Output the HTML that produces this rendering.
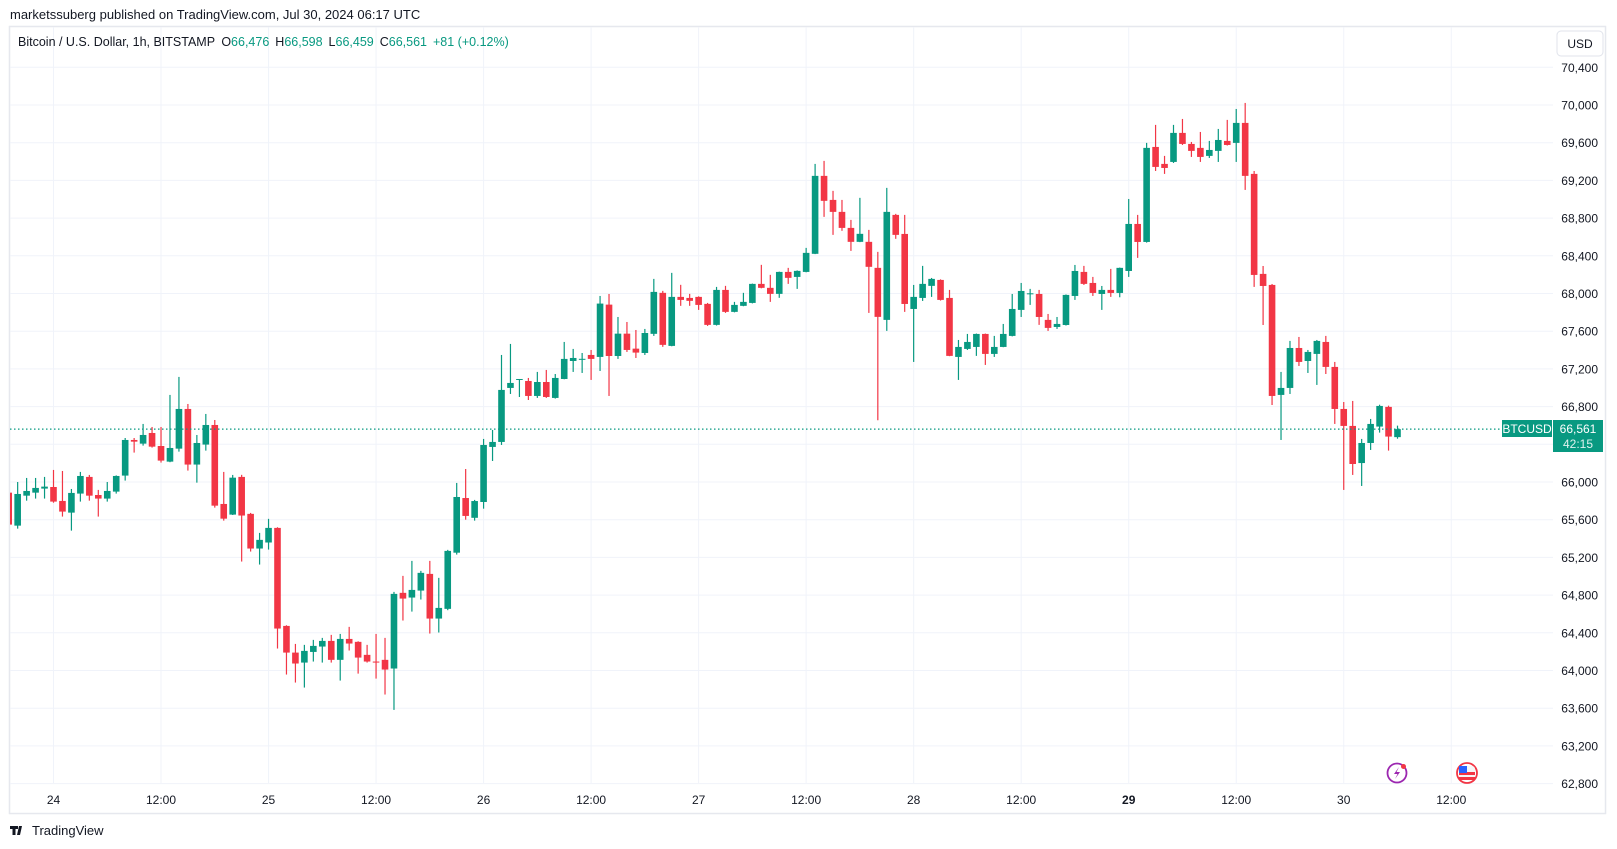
<!DOCTYPE html>
<html><head><meta charset="utf-8"><style>
html,body{margin:0;padding:0;background:#fff;}
svg{display:block;font-family:"Liberation Sans",sans-serif;}
</style></head><body>
<svg id="chart" width="1617" height="849" viewBox="0 0 1617 849" xmlns="http://www.w3.org/2000/svg">
<defs><clipPath id="plotclip"><rect x="10" y="27" width="1543" height="756"/></clipPath></defs>
<text x="10" y="19" font-size="13" fill="#131722">marketssuberg published on TradingView.com, Jul 30, 2024 06:17 UTC</text>
<rect x="9.5" y="26.5" width="1596" height="787" fill="#fff" stroke="#e6e8ee" stroke-width="1.5"/>
<g id="grid"></g>
<g id="xlabels"></g>
<g id="ylabels"></g>
<g id="candles" clip-path="url(#plotclip)"></g>
<line id="lastline" x1="10" x2="1502" stroke="#089981" stroke-width="1.2" stroke-dasharray="1.5 2.5"/>
<g>
<text x="18" y="46" font-size="12.5" fill="#131722">Bitcoin / U.S. Dollar, 1h, BITSTAMP <tspan dx="3">O</tspan><tspan fill="#089981">66,476</tspan><tspan dx="6">H</tspan><tspan fill="#089981">66,598</tspan><tspan dx="6">L</tspan><tspan fill="#089981">66,459</tspan><tspan dx="6">C</tspan><tspan fill="#089981">66,561</tspan><tspan dx="6" fill="#089981">+81 (+0.12%)</tspan></text>
</g>
<g>
<rect x="1557" y="31" width="46" height="25" rx="4" fill="#fff" stroke="#e0e3eb"/>
<text x="1580" y="48" font-size="12" text-anchor="middle" fill="#131722">USD</text>
</g>
<g>
<rect x="1502" y="420" width="50" height="17" fill="#089981"/>
<text x="1527" y="433" font-size="12" text-anchor="middle" fill="#fff">BTCUSD</text>
<rect x="1553" y="420" width="50" height="32" fill="#089981"/>
<text x="1578" y="433" font-size="12" text-anchor="middle" fill="#fff">66,561</text>
<text x="1578" y="448" font-size="12" text-anchor="middle" fill="#e0f2ef">42:15</text>
</g>
<g>
<circle cx="1397" cy="773" r="9.5" fill="#fff" stroke="#9c27b0" stroke-width="1.8"/>
<path d="M1399 767 L1394 774 L1397.5 774 L1395 779 L1400 772 L1396.5 772 Z" fill="#9c27b0"/>
<circle cx="1403.5" cy="766.5" r="2.5" fill="#f23645"/>
</g>
<g>
<circle cx="1467" cy="773" r="10" fill="#fff" stroke="#f23645" stroke-width="1.8"/>
<rect x="1459" y="766" width="16" height="14" rx="3" fill="#f7f7f7"/>
<rect x="1459" y="772" width="16" height="3" fill="#f23645"/>
<rect x="1459" y="777" width="16" height="3" fill="#f23645"/>
<rect x="1459" y="766" width="8" height="7" fill="#2962ff"/>
</g>
<g>
<path d="M10 826 h8 v3 h-2.5 v6 h-3 v-6 h-2.5z M19 826 h3 l-2 9 h-3z" fill="#131722"/>
<text x="32" y="835" font-size="13" fill="#131722">TradingView</text>
</g>
</svg>
<script>
const opens=[65887,65537,65855,65887,65930,65947,65799,65675,65877,66054,65862,65824,65898,66068,66446,66407,66520,66382,66216,66354,66775,66185,66397,66605,65767,65654,66054,65662,65294,65358,65513,64473,64190,64084,64197,64254,64314,64113,64335,64304,64166,64095,64113,64021,64824,64774,64848,65025,64551,64654,65250,65830,65620,65788,66372,66425,66998,67083,67072,66913,67061,66892,67093,67284,67302,67348,67327,67882,67337,67574,67415,67369,67572,68007,67444,67964,67953,67964,67890,67667,68038,67805,67869,67900,68102,68060,67996,68229,68176,68229,68421,69248,68993,68866,68696,68548,68548,68272,67720,68834,68632,67836,67953,68081,68144,67953,67327,67412,67433,67571,67359,67433,67550,67826,67995,67995,67720,67645,67666,67974,68229,68112,67995,68038,68006,68239,68738,68547,69555,69375,69396,69704,69587,69545,69460,69513,69619,69598,69810,69269,68208,68091,66924,66998,67422,67284,67359,67486,67221,66775,66595,66201,66414,66588,66797,66476];
const highs=[65900,66000,66043,66043,66054,66128,66117,65926,66107,66075,65916,66000,66070,66467,66467,66616,66584,66584,66924,67115,66828,66499,66722,66658,66107,66075,66076,65672,65460,65609,65520,64480,64282,64272,64325,64346,64378,64388,64463,64310,64272,64388,64346,64834,65004,65163,65057,65163,64983,65280,65990,66138,65810,66457,66552,67348,67465,67093,67104,67168,67189,67146,67486,67412,67369,67401,67974,67995,67751,67698,67613,67624,68155,68028,68219,68092,67996,67970,67900,68070,68081,67911,68007,68105,68304,68198,68232,68272,68245,68484,69375,69407,69089,68993,68781,69015,68675,68442,69121,68845,68834,68091,68293,68165,68150,68038,67507,67571,67575,67575,67550,67677,67995,68112,68049,68038,67783,67751,67990,68303,68293,68176,68080,68261,68275,69003,68834,69598,69789,69460,69789,69852,69608,69714,69619,69746,69842,69958,70022,69300,68292,68101,67168,67497,67539,67401,67507,67550,67274,66849,66860,66457,66669,66820,66810,66598];
const lows=[65530,65505,65802,65824,65824,65780,65633,65484,65792,65802,65633,65792,65877,66015,66312,66386,66365,66206,66210,66322,66121,65993,66333,65728,65590,65650,65156,65262,65124,65283,64233,63957,63872,63819,64095,64084,64084,63893,64212,63967,64084,63914,63745,63582,64530,64625,64753,64392,64403,64640,65230,65600,65590,65717,66223,66393,66934,66902,66870,66892,66892,66885,67090,67168,67157,67083,67178,66913,67306,67380,67316,67348,67550,67434,67440,67869,67869,67826,67656,67660,67794,67800,67865,67895,68055,67911,67954,68102,68049,68225,68418,68813,68622,68665,68452,68545,67794,66655,67603,68580,67805,67274,67921,67964,67925,67335,67083,67401,67338,67242,67327,67430,67545,67751,67879,67667,67603,67624,67660,67932,68091,67974,67826,67964,67960,68176,68378,68540,69300,69269,69385,69576,69449,69396,69438,69396,69570,69396,69099,68070,67666,66817,66446,66934,67231,67157,67030,67146,66616,65916,66075,65958,66340,66524,66333,66459];
const closes=[65548,65873,65905,65937,65951,65792,65686,65884,66064,65855,65824,65905,66064,66446,66428,66499,66375,66227,66361,66775,66185,66414,66605,65749,65611,66046,65644,65294,65386,65513,64445,64190,64074,64208,64261,64314,64113,64335,64286,64137,64095,64084,64010,64813,64763,64855,65036,64551,64664,65269,65841,65640,65798,66393,66425,66977,67051,67093,66913,67061,66902,67104,67306,67316,67307,67306,67893,67337,67574,67401,67373,67581,68017,67455,67964,67932,67922,67879,67667,68038,67805,67879,67911,68102,68060,67996,68229,68166,68240,68431,69248,68983,68866,68696,68548,68633,68283,67752,68866,68622,67889,67964,68102,68155,67932,67338,67433,67486,67571,67359,67433,67571,67836,68027,68002,67751,67635,67677,67985,68239,68102,68006,68038,68006,68272,68738,68547,69545,69343,69332,69704,69587,69513,69449,69523,69629,69576,69810,69248,68197,68080,66913,66998,67422,67274,67380,67497,67221,66775,66595,66191,66414,66616,66807,66482,66561];
const firstHourOffset=-5; // hours relative to Jul 24 00:00
const priceTicks=[70400,70000,69600,69200,68800,68400,68000,67600,67200,66800,66400,66000,65600,65200,64800,64400,64000,63600,63200,62800];
const timeTicks=[0,12,24,36,48,60,72,84,96,108,120,132,144,156];
const timeTickLabels=["24","12:00","25","12:00","26","12:00","27","12:00","28","12:00","29","12:00","30","12:00"];
const lastPrice=66561;

const NS="http://www.w3.org/2000/svg";
function yScale(p){return 67.3+(70400-p)*37.7/400;}
function xScale(h){return 53.5+h*8.96;}
function mk(tag,attrs,parent){const e=document.createElementNS(NS,tag);for(const k in attrs)e.setAttribute(k,attrs[k]);parent.appendChild(e);return e;}

const grid=document.getElementById('grid');
const yl=document.getElementById('ylabels');
const xl=document.getElementById('xlabels');
priceTicks.forEach(p=>{
  const y=yScale(p);
  const l=mk('line',{x1:10,x2:1553,y1:y,y2:y,stroke:'#f0f3fa','stroke-width':1},grid);
  
  
  const t=mk('text',{x:1598,y:y+4.5,'font-size':12,'text-anchor':'end',fill:'#131722'},yl);
  
  
  t.textContent=p.toLocaleString('en-US');
});
timeTicks.forEach((h,i)=>{
  const x=xScale(h);
  const l=mk('line',{x1:x,x2:x,y1:27,y2:783,stroke:'#f0f3fa','stroke-width':1},grid);
  
  
  const t=mk('text',{x:x,y:804,'font-size':12,'text-anchor':'middle',fill:'#131722','font-weight':timeTickLabels[i]==="29"?'bold':'normal'},xl);
  
  
  t.textContent=timeTickLabels[i];
});
const cg=document.getElementById('candles');
for(let i=0;i<opens.length;i++){
  const x=xScale(i+firstHourOffset);
  const up=closes[i]>=opens[i];
  const col=up?'#089981':'#f23645';
  const w=mk('line',{x1:x,x2:x,y1:yScale(highs[i]),y2:yScale(lows[i]),stroke:col,'stroke-width':1.2},cg);
  
  
  const top=yScale(Math.max(opens[i],closes[i]));
  const bot=yScale(Math.min(opens[i],closes[i]));
  const b=mk('rect',{x:x-3.3,y:top,width:6.6,height:Math.max(1,bot-top),fill:col},cg);
  
  
}
const ll=document.getElementById('lastline');
ll.setAttribute('y1',yScale(lastPrice));
ll.setAttribute('y2',yScale(lastPrice));
</script>
</body></html>
